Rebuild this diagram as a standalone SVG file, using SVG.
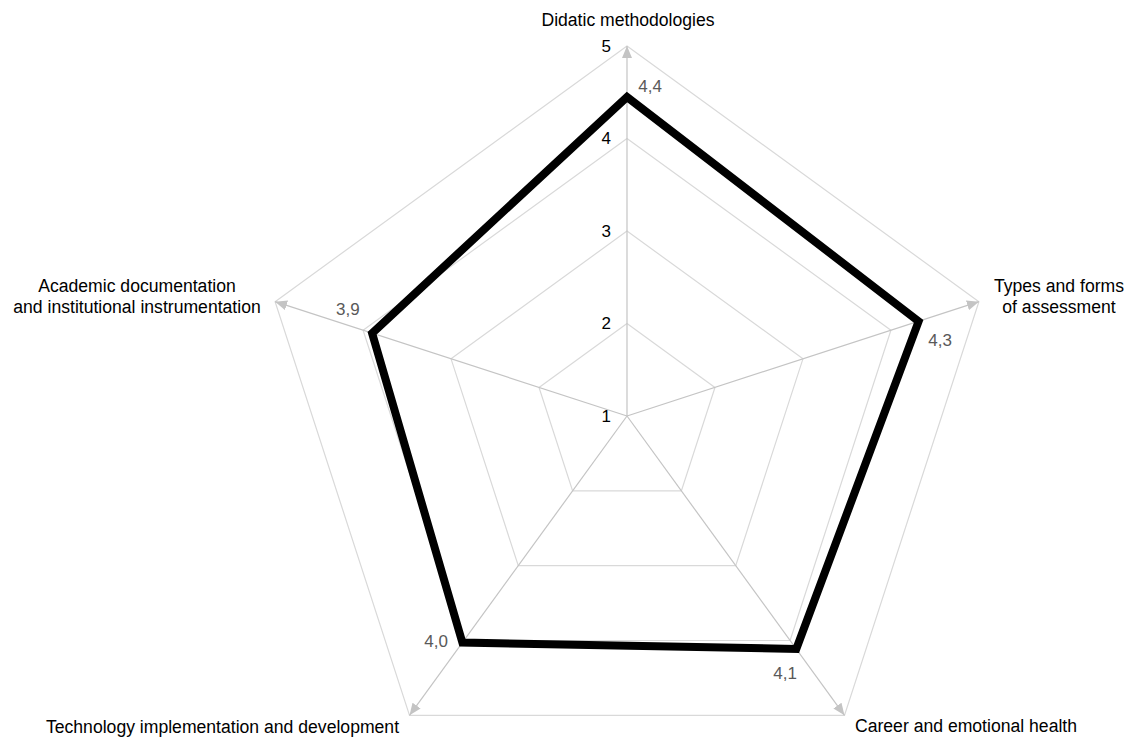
<svg xmlns="http://www.w3.org/2000/svg" width="1131" height="738" viewBox="0 0 1131 738">
<style>
.web{fill:none;stroke:#d9d9d9;stroke-width:1.2}
.axis{stroke:#c4c4c4;stroke-width:1.2;marker-end:url(#arr)}
.data{fill:none;stroke:#000;stroke-width:8;stroke-linejoin:miter}
.cat{font-family:"Liberation Sans",Arial,sans-serif;font-size:17.6px;fill:#000}
.tick{font-family:"Liberation Sans",Arial,sans-serif;font-size:17px;fill:#000;text-anchor:end}
.val{font-family:"Liberation Sans",Arial,sans-serif;font-size:17px;fill:#595959}
</style>
<defs>
<marker id="arr" viewBox="0 0 12 10" refX="12" refY="5" markerWidth="12" markerHeight="10" markerUnits="userSpaceOnUse" orient="auto">
<path d="M0,0 L12,5 L0,10 z" fill="#c4c4c4"/>
</marker>
</defs>
<rect width="1131" height="738" fill="#fff"/>
<g id="grid">
<polygon class="web" points="627,323.5 714.97,387.42 681.37,490.83 572.63,490.83 539.03,387.42"/>
<polygon class="web" points="627,231 802.95,358.83 735.74,565.67 518.26,565.67 451.05,358.83"/>
<polygon class="web" points="627,138.5 890.92,330.25 790.11,640.5 463.89,640.5 363.08,330.25"/>
<polygon class="web" points="627,46 978.89,301.66 844.48,715.34 409.52,715.34 275.11,301.66"/>
</g>
<g id="connectors">
<line class="axis" x1="627" y1="416" x2="627" y2="46"/>
<line class="axis" x1="627" y1="416" x2="978.89" y2="301.66"/>
<line class="axis" x1="627" y1="416" x2="844.48" y2="715.34"/>
<line class="axis" x1="627" y1="416" x2="409.52" y2="715.34"/>
<line class="axis" x1="627" y1="416" x2="275.11" y2="301.66"/>
</g>
<g id="ticks">
<text class="tick" x="611" y="52">5</text>
<text class="tick" x="611" y="144">4</text>
<text class="tick" x="611" y="236.5">3</text>
<text class="tick" x="611" y="329">2</text>
<text class="tick" x="611" y="422">1</text>
</g>
<g id="series">
<polygon class="data" points="627,97 918.6,321.3 796.3,649 462.4,642.5 372.1,333.2"/>
</g>
<g id="values">
<text class="val" x="638.3" y="92.3">4,4</text>
<text class="val" x="928.3" y="346">4,3</text>
<text class="val" x="773.3" y="679.3">4,1</text>
<text class="val" x="424.3" y="646.7">4,0</text>
<text class="val" x="336" y="315">3,9</text>
</g>
<g id="node-didatic">
<text class="cat" x="628" y="26" text-anchor="middle">Didatic methodologies</text>
</g>
<g id="node-assessment">
<text class="cat" x="1059" y="292.3" text-anchor="middle">Types and forms</text>
<text class="cat" x="1059" y="313.3" text-anchor="middle">of assessment</text>
</g>
<g id="node-career">
<text class="cat" x="966" y="731.7" text-anchor="middle">Career and emotional health</text>
</g>
<g id="node-technology">
<text class="cat" x="222.5" y="733" text-anchor="middle">Technology implementation and development</text>
</g>
<g id="node-academic">
<text class="cat" x="137" y="292" text-anchor="middle">Academic documentation</text>
<text class="cat" x="137" y="313" text-anchor="middle">and institutional instrumentation</text>
</g>
</svg>
